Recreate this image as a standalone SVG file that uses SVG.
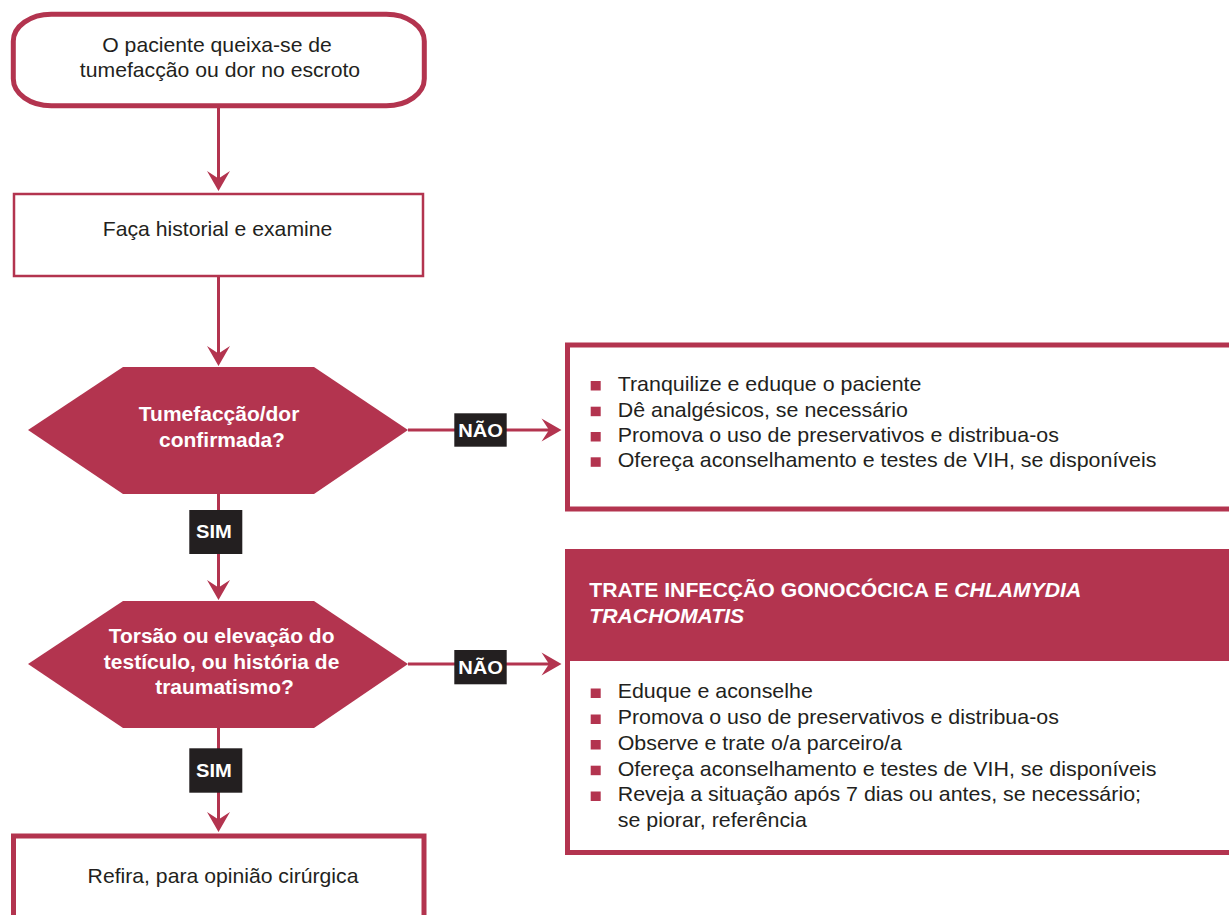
<svg xmlns="http://www.w3.org/2000/svg" width="1229" height="915" viewBox="0 0 1229 915">
  <defs>
    <style>
      .box { fill: #ffffff; stroke: #b3344f; }
      .dec { fill: #b3344f; }
      .conn { fill: none; stroke: #b3344f; stroke-width: 3; }
      .tag { fill: #231f20; }
      .bul { fill: #b3344f; }
      text { font-family: "Liberation Sans", Arial, Helvetica, sans-serif; }
      .tx { font-size: 20px; fill: #231f20; }
      .bl { font-size: 20.2px; fill: #231f20; }
      .mid { text-anchor: middle; }
      .q { font-size: 19.8px; font-weight: bold; fill: #ffffff; text-anchor: middle; }
      .lt { font-size: 19px; font-weight: bold; fill: #ffffff; text-anchor: middle; }
      .hd { font-size: 20px; font-weight: bold; fill: #ffffff; }
      .it { font-style: italic; }
    </style>
    <marker id="ah" viewBox="-21 -12 22 24" refX="-12" refY="0" markerWidth="22" markerHeight="24" markerUnits="userSpaceOnUse" orient="auto">
      <path d="M0,0 L-20,-11.5 L-12.5,0 L-20,11.5 Z" fill="#b3344f"/>
    </marker>
  </defs>

  <rect width="1229" height="915" fill="#ffffff"/>

  <!-- connectors and their yes/no tags -->
  <g id="connectors">
    <path class="conn" d="M218.5,108 V179" marker-end="url(#ah)"/>
    <path class="conn" d="M218.5,277 V354" marker-end="url(#ah)"/>
    <path class="conn" d="M408,430 H549.5" marker-end="url(#ah)"/>
    <path class="conn" d="M218.5,494 V588" marker-end="url(#ah)"/>
    <path class="conn" d="M408,664 H549.5" marker-end="url(#ah)"/>
    <path class="conn" d="M218.5,728 V820" marker-end="url(#ah)"/>

    <g id="tag-nao-1">
      <rect class="tag" x="454.3" y="413.3" width="52.4" height="33.4"/>
      <text class="lt" transform="translate(480.5,436.7) scale(1.06,1)">NÃO</text>
    </g>
    <g id="tag-sim-1">
      <rect class="tag" x="189.3" y="510" width="53" height="44"/>
      <text class="lt" transform="translate(214,538.4) scale(1.06,1)">SIM</text>
    </g>
    <g id="tag-nao-2">
      <rect class="tag" x="454.3" y="650" width="52.4" height="34.3"/>
      <text class="lt" transform="translate(480.5,673.6) scale(1.06,1)">NÃO</text>
    </g>
    <g id="tag-sim-2">
      <rect class="tag" x="189.3" y="748.3" width="53" height="44.4"/>
      <text class="lt" transform="translate(214,776.7) scale(1.06,1)">SIM</text>
    </g>
  </g>

  <!-- start: complaint -->
  <g id="start">
    <rect class="box" x="13.3" y="14.2" width="411" height="91.6" rx="38" ry="27" stroke-width="5"/>
    <text class="tx mid" transform="translate(220,0) scale(1.06,1)">
      <tspan x="0" y="51.7">O paciente queixa-se de</tspan>
      <tspan x="0" y="76.7">tumefacção ou dor no escroto</tspan>
    </text>
  </g>

  <!-- history and examination -->
  <g id="history">
    <rect class="box" x="14" y="194" width="409" height="82" stroke-width="2.5"/>
    <text class="tx mid" transform="translate(217.5,236) scale(1.06,1)">Faça historial e examine</text>
  </g>

  <!-- decision: swelling confirmed -->
  <g id="decision-swelling">
    <polygon class="dec" points="28,430 123,367 314,367 408,430 314,494 123,494"/>
    <text class="q" transform="translate(222,0) scale(1.06,1)">
      <tspan x="0" y="420.7">Tumefacção/dor</tspan>
      <tspan x="0" y="446.7">confirmada?</tspan>
    </text>
  </g>

  <!-- outcome: reassure -->
  <g id="reassure">
    <rect class="box" x="567.5" y="345" width="680" height="164" stroke-width="5"/>
    <rect class="bul" x="590.7" y="381" width="10" height="9.5"/>
    <rect class="bul" x="590.7" y="406.7" width="10" height="9.5"/>
    <rect class="bul" x="590.7" y="432" width="10" height="9.5"/>
    <rect class="bul" x="590.7" y="457.3" width="10" height="9.5"/>
    <text class="bl" transform="translate(617.7,0) scale(1.06,1)">
      <tspan x="0" y="391">Tranquilize e eduque o paciente</tspan>
      <tspan x="0" y="416.7">Dê analgésicos, se necessário</tspan>
      <tspan x="0" y="442">Promova o uso de preservativos e distribua-os</tspan>
      <tspan x="0" y="467.3">Ofereça aconselhamento e testes de VIH, se disponíveis</tspan>
    </text>
  </g>

  <!-- decision: torsion / trauma -->
  <g id="decision-torsion">
    <polygon class="dec" points="28,664 123,601 314,601 408,664 314,728 123,728"/>
    <text class="q" transform="translate(224.5,0) scale(1.06,1)">
      <tspan x="0" y="643.3">Torsão ou elevação do</tspan>
      <tspan x="0" y="669.3">testículo, ou história de</tspan>
      <tspan x="0" y="694">traumatismo?</tspan>
    </text>
  </g>

  <!-- outcome: treat gonococcal and chlamydial infection -->
  <g id="treat">
    <rect class="box" x="567.5" y="551.5" width="680" height="301" stroke-width="5"/>
    <rect class="dec" x="565" y="549" width="680" height="112"/>
    <text class="hd" transform="translate(589.3,0) scale(1.06,1)">
      <tspan x="0" y="597">TRATE INFECÇÃO GONOCÓCICA E <tspan class="it">CHLAMYDIA</tspan></tspan>
      <tspan x="0" y="623" class="it">TRACHOMATIS</tspan>
    </text>
    <rect class="bul" x="590.7" y="688.5" width="10" height="9.5"/>
    <rect class="bul" x="590.7" y="714.5" width="10" height="9.5"/>
    <rect class="bul" x="590.7" y="740" width="10" height="9.5"/>
    <rect class="bul" x="590.7" y="765.7" width="10" height="9.5"/>
    <rect class="bul" x="590.7" y="791.5" width="10" height="9.5"/>
    <text class="bl" transform="translate(617.7,0) scale(1.06,1)">
      <tspan x="0" y="698.5">Eduque e aconselhe</tspan>
      <tspan x="0" y="724.5">Promova o uso de preservativos e distribua-os</tspan>
      <tspan x="0" y="750">Observe e trate o/a parceiro/a</tspan>
      <tspan x="0" y="775.7">Ofereça aconselhamento e testes de VIH, se disponíveis</tspan>
      <tspan x="0" y="801.5">Reveja a situação após 7 dias ou antes, se necessário;</tspan>
      <tspan x="0" y="827">se piorar, referência</tspan>
    </text>
  </g>

  <!-- outcome: surgical referral -->
  <g id="refer">
    <rect class="box" x="13.5" y="836" width="410.5" height="100" stroke-width="5"/>
    <text class="tx mid" transform="translate(223,883.3) scale(1.06,1)">Refira, para opinião cirúrgica</text>
  </g>
</svg>
